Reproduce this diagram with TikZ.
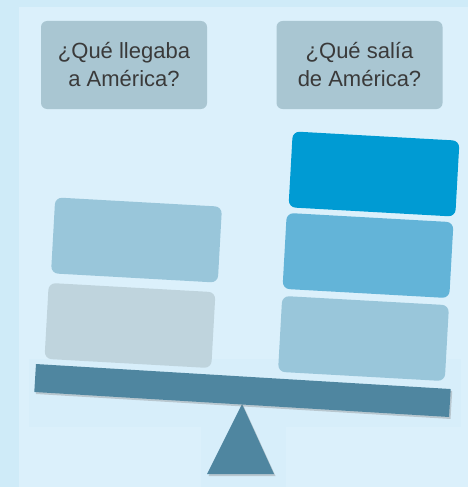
\documentclass[tikz,border=0pt]{standalone}
\usepackage{fontspec}
\setmainfont{Liberation Sans}
\usetikzlibrary{shadows}
\definecolor{outerbg}{HTML}{CFEBF8}
\definecolor{innerbg}{HTML}{DBF0FB}
\definecolor{hazebg}{HTML}{D7EEFA}
\definecolor{labelfill}{HTML}{A9C6D2}
\definecolor{labeltext}{HTML}{3A3A3A}
\definecolor{beamcol}{HTML}{4F86A0}
\definecolor{blockA}{HTML}{99C6DA}
\definecolor{blockB}{HTML}{BFD4DD}
\definecolor{blockC}{HTML}{009BD3}
\definecolor{blockD}{HTML}{63B4D8}
\tikzset{
  labelbox/.style={fill=labelfill, rounded corners=6pt, minimum width=166pt, minimum height=88pt,
    inner sep=0pt, align=center, text=labeltext, font=\fontsize{22}{28}\selectfont},
  block/.style={rounded corners=7pt, minimum width=167pt, minimum height=76pt, inner sep=0pt, rotate=-3.2},
  beamshadow/.style={drop shadow={shadow xshift=1.5pt, shadow yshift=-2pt, opacity=0.35}},
}
\begin{document}
\begin{tikzpicture}[x=1pt,y=-1pt]
\useasboundingbox (0,0) rectangle (468,487);
\fill[outerbg] (0,0) rectangle (468,487);
\fill[innerbg] (19,7) rectangle (468,487);
\fill[hazebg] (29,359) rectangle (461,427);
\fill[hazebg] (201,400) rectangle (286,487);
% labels
\node[labelbox] (qin) at (124,65) {¿Qué llegaba\\a América?};
\node[labelbox] (qout) at (359.5,65) {¿Qué salía\\de América?};
% left blocks
\node[block, fill=blockA] (l1) at (136.5,240) {};
\node[block, fill=blockB] (l2) at (130,325.5) {};
% right blocks
\node[block, fill=blockC] (r1) at (374,174) {};
\node[block, fill=blockD] (r2) at (368,255.5) {};
\node[block, fill=blockA] (r3) at (363.5,338.5) {};
% beam and fulcrum
\fill[beamcol, beamshadow] (242,404) -- (274,474) -- (207,474) -- cycle;
\node[beamshadow, fill=beamcol, minimum width=415.5pt, minimum height=28pt, inner sep=0pt, rotate=-3.45] (beam) at (242.5,390.5) {};
\end{tikzpicture}
\end{document}
